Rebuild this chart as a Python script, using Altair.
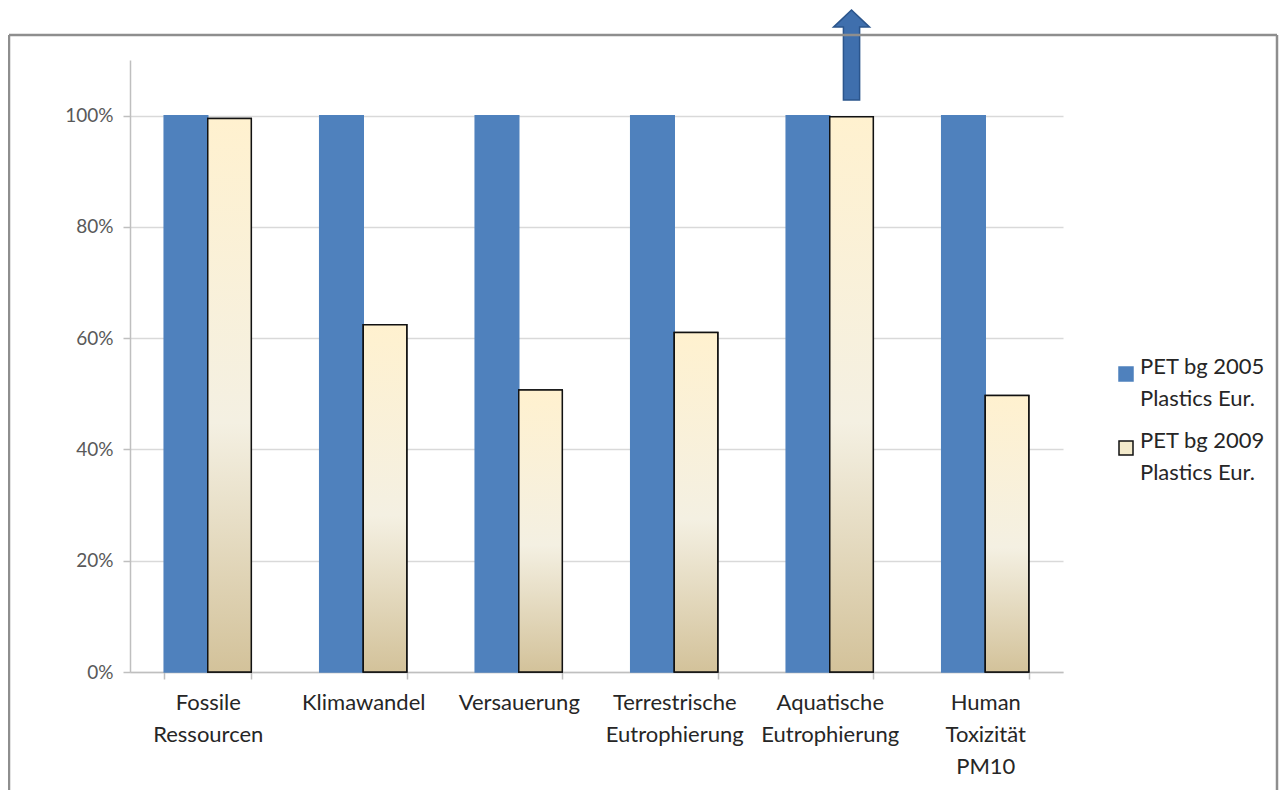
import altair as alt
import pandas as pd

categories = [
    "Fossile|Ressourcen",
    "Klimawandel",
    "Versauerung",
    "Terrestrische|Eutrophierung",
    "Aquatische|Eutrophierung",
    "Human|Toxizität|PM10",
]
series = ["PET bg 2005|Plastics Eur.", "PET bg 2009|Plastics Eur."]
values_2005 = [1.00, 1.00, 1.00, 1.00, 1.00, 1.00]
values_2009 = [0.995, 0.624, 0.507, 0.610, 0.998, 0.497]
y_ticks = [0, 0.2, 0.4, 0.6, 0.8, 1.0]

arrow_category = ["Aquatische|Eutrophierung"]
arrow_series = ["PET bg 2009|Plastics Eur."]
arrow_value = [1.109]

rows = []
for c, v in zip(categories, values_2005):
    rows.append({"cat": c, "series": series[0], "value": v})
for c, v in zip(categories, values_2009):
    rows.append({"cat": c, "series": series[1], "value": v})
df = pd.DataFrame(rows)
arrow_df = pd.DataFrame({"cat": arrow_category, "series": arrow_series, "value": arrow_value})

FONT = "Lato"
BLUE = "#4F81BD"
AXIS_GRAY = "#BFBFBF"

x_enc = alt.X(
    "cat:N",
    scale=alt.Scale(domain=categories, paddingInner=0.44, paddingOuter=0.22),
    axis=alt.Axis(
        title=None,
        labelAngle=0,
        labelExpr="split(datum.label, '|')",
        labelLineHeight=32,
        labelFontSize=22,
        labelFont=FONT,
        labelColor="#262626",
        labelPadding=13,
        labelBaseline="top",
        labelLimit=0,
        tickSize=7,
        tickBand="extent",
        tickColor=AXIS_GRAY,
        tickWidth=1.5,
        domainColor=AXIS_GRAY,
        domainWidth=1.5,
        grid=False,
    ),
)
xo_enc = alt.XOffset("series:N", scale=alt.Scale(domain=series, paddingInner=0, paddingOuter=0))
y_enc = alt.Y(
    "value:Q",
    scale=alt.Scale(domain=[0, 1.1], nice=False),
    axis=alt.Axis(
        title=None,
        values=y_ticks,
        format=".0%",
        labelFontSize=19,
        labelFont=FONT,
        labelColor="#595959",
        labelPadding=10,
        tickSize=7,
        tickColor=AXIS_GRAY,
        tickWidth=1.5,
        domainColor=AXIS_GRAY,
        domainWidth=1.5,
        gridColor="#D9D9D9",
        gridWidth=1.5,
    ),
)

legend = alt.Legend(
    title=None,
    orient="none",
    legendX=985,
    legendY=303,
    labelExpr="split(datum.label, '|')",
    labelFontSize=22,
    labelFont=FONT,
    labelColor="#262626",
    labelBaseline="alphabetic",
    labelOffset=3,
    symbolType="square",
    symbolSize=196,
    symbolStrokeWidth=1.5,
    rowPadding=20,
)

base_bars = alt.Chart(df).mark_bar(strokeWidth=1.5).encode(
    x=x_enc,
    xOffset=xo_enc,
    y=y_enc,
    color=alt.Color("series:N", scale=alt.Scale(domain=series, range=[BLUE, "#F3EACB"]), legend=legend),
    stroke=alt.Stroke("series:N", scale=alt.Scale(domain=series, range=[BLUE, "#111111"]), legend=legend),
)

gradient = alt.LinearGradient(
    gradient="linear",
    stops=[
        alt.GradientStop(color="#FFF1CF", offset=0),
        alt.GradientStop(color="#F4F0E2", offset=0.55),
        alt.GradientStop(color="#D3C29A", offset=1),
    ],
    x1=0, x2=0, y1=0, y2=1,
)

cream_bars = alt.Chart(df).transform_filter(
    alt.datum.series == series[1]
).mark_bar(fill=gradient, stroke="#111111", strokeWidth=1.5).encode(
    x=x_enc, xOffset=xo_enc, y=y_enc
)

arrow_path = "M0,-1 L0.4,-0.62 L0.18,-0.62 L0.18,1 L-0.18,1 L-0.18,-0.62 L-0.4,-0.62 Z"
arrow = alt.Chart(arrow_df).mark_point(
    shape=arrow_path, size=8100, filled=True, fill="#3F6FAD", stroke="#2B558C",
    strokeWidth=1.5, opacity=1,
).encode(x=x_enc, xOffset=xo_enc, y=y_enc)

FRAME = "#8E8E8E"
one = alt.Data(values=[{"k": 1}])
frame_left = alt.Chart(one).mark_rule(color=FRAME, strokeWidth=2.5).encode(
    x=alt.value(-121), y=alt.value(-25), y2=alt.value(730))
frame_top = alt.Chart(one).mark_rule(color=FRAME, strokeWidth=2.5).encode(
    x=alt.value(-121), x2=alt.value(1147), y=alt.value(-25))
frame_right = alt.Chart(one).mark_rule(color=FRAME, strokeWidth=2.5).encode(
    x=alt.value(1147), y=alt.value(-25), y2=alt.value(730))

chart = alt.layer(
    base_bars, cream_bars, arrow, frame_left, frame_top, frame_right
).properties(
    width=933, height=612,
    padding={"left": 122, "top": 52, "right": 216, "bottom": 120},
    autosize=alt.AutoSizeParams(type="none"),
).configure(
    style={"guide-label": {"lineHeight": 32}}
).configure_view(
    stroke=None
)

chart.save("out.html", embed_options={"renderer": "svg", "actions": False})
